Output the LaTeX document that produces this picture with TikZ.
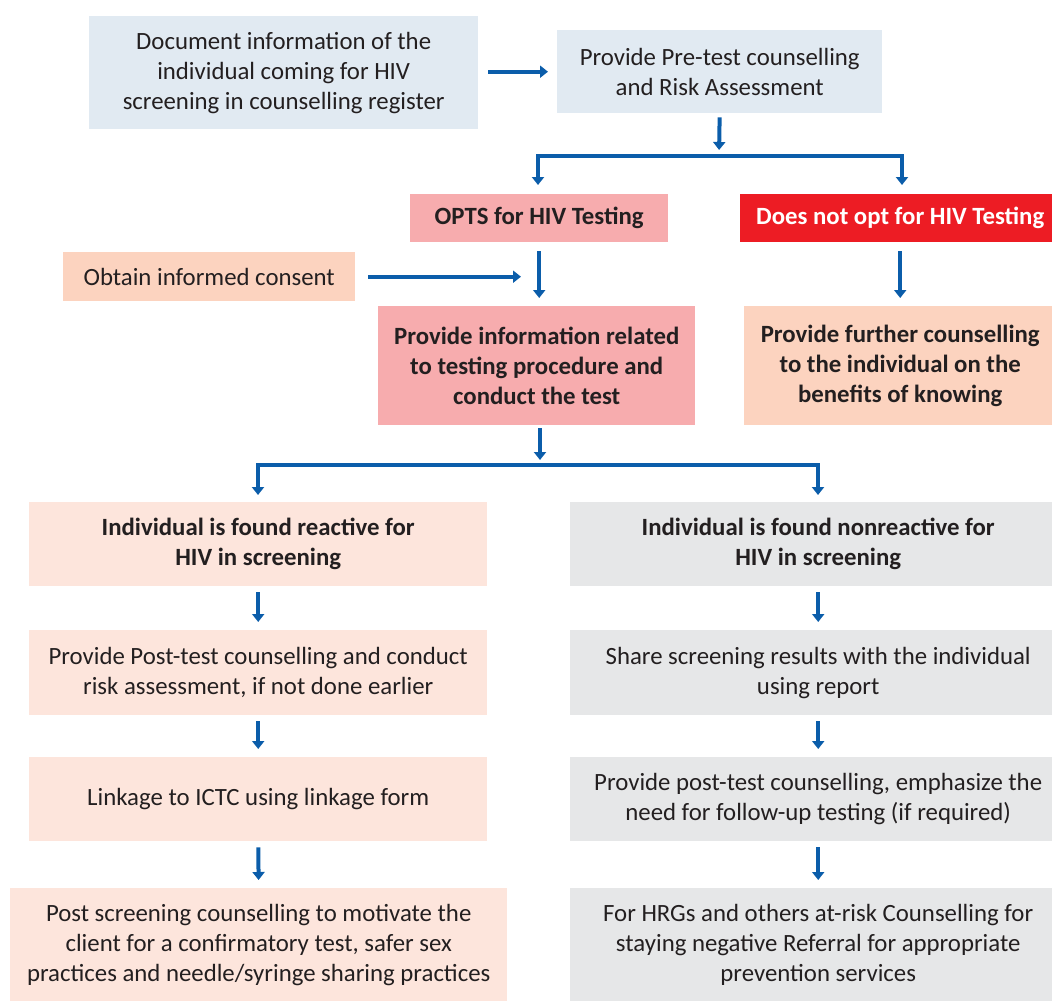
\documentclass[tikz,border=0pt]{standalone}
\usepackage{fontspec}
\setmainfont{Carlito}
\usetikzlibrary{arrows.meta}
\definecolor{txt}{HTML}{231F20}
\definecolor{cblue}{HTML}{E1EAF2}
\definecolor{cpink}{HTML}{F7ACAE}
\definecolor{cred}{HTML}{ED1C24}
\definecolor{cpeach}{HTML}{FCD3BF}
\definecolor{clpeach}{HTML}{FDE5DC}
\definecolor{cgray}{HTML}{E6E7E8}
\definecolor{arrblue}{HTML}{0B5DAA}
\tikzset{
  box/.style={anchor=north west, inner sep=0pt, align=center, text=txt,
    font=\fontsize{24.8}{30}\selectfont},
  bbox/.style={box, font=\fontsize{24.8}{30}\selectfont\bfseries},
  arr/.style={draw=arrblue, line width=4pt, -{Triangle[width=12pt,length=8pt]}},
  bar/.style={draw=arrblue, line width=4pt, line cap=rect},
}
\begin{document}
\begin{tikzpicture}[x=1pt,y=-1pt]
\path[use as bounding box, clip] (0,0) rectangle (1052,1001);
% top row
\node[box, fill=cblue, minimum width=389pt, minimum height=113pt] (doc) at (89,16)
  {Document information of the\\individual coming for HIV\\screening in counselling register};
\node[box, fill=cblue, minimum width=325pt, minimum height=83pt] (pre) at (557,30)
  {Provide Pre-test counselling\\and Risk Assessment};
% decision
\node[bbox, fill=cpink, minimum width=258pt, minimum height=48pt] (opts) at (410,194)
  {OPTS for HIV Testing};
\node[bbox, fill=cred, text=white, minimum width=320pt, minimum height=48pt] (noopt) at (740,194)
  {Does not opt for HIV Testing};
\node[box, fill=cpeach, minimum width=292pt, minimum height=49pt] (consent) at (63,252)
  {Obtain informed consent};
\node[bbox, fill=cpink, minimum width=317pt, minimum height=119pt] (info) at (378,306)
  {Provide information related\\to testing procedure and\\conduct the test};
\node[bbox, fill=cpeach, minimum width=312pt, minimum height=119pt] (further) at (744,306)
  {Provide further counselling\\to the individual on the\\benefits of knowing};
% left column
\node[bbox, fill=clpeach, minimum width=458pt, minimum height=84pt] (react) at (29,502)
  {Individual is found reactive for\\HIV in screening};
\node[box, fill=clpeach, minimum width=458pt, minimum height=85pt] (postl) at (29,630)
  {Provide Post-test counselling and conduct\\risk assessment, if not done earlier};
\node[box, fill=clpeach, minimum width=458pt, minimum height=84pt] (link) at (29,757)
  {Linkage to ICTC using linkage form};
\node[box, fill=clpeach, minimum width=497pt, minimum height=113pt] (postscr) at (10,888)
  {Post screening counselling to motivate the\\client for a confirmatory test, safer sex\\practices and needle/syringe sharing practices};
% right column
\node[bbox, fill=cgray, minimum width=496pt, minimum height=84pt] (nonreact) at (570,502)
  {Individual is found nonreactive for\\HIV in screening};
\node[box, fill=cgray, minimum width=496pt, minimum height=85pt] (share) at (570,630)
  {Share screening results with the individual\\using report};
\node[box, fill=cgray, minimum width=496pt, minimum height=84pt] (postr) at (570,757)
  {Provide post-test counselling, emphasize the\\need for follow-up testing (if required)};
\node[box, fill=cgray, minimum width=496pt, minimum height=113pt] (hrg) at (570,888)
  {For HRGs and others at-risk Counselling for\\staying negative Referral for appropriate\\prevention services};
% connectors
\draw[arr, shorten <=10pt, shorten >=9pt] (doc.east |- pre.west) -- (pre.west);
\coordinate (j1) at (719,156);
\coordinate (b1l) at (538,156);
\coordinate (b1r) at (902,156);
\draw[arr, shorten <=4pt, shorten >=6pt] (pre.south) -- (j1);
\draw[bar] (b1l) -- (b1r);
\draw[arr, shorten >=9pt] (b1l) -- (b1l |- opts.north);
\draw[arr, shorten >=9pt] (b1r) -- (b1r |- noopt.north);
\coordinate (c1) at (521,276);
\draw[arr, shorten <=13pt] (consent.east) -- (c1 |- consent.east);
\draw[arr, shorten <=9pt, shorten >=8pt] (opts.south) -- (opts.south |- info.north);
\draw[arr, shorten <=9pt, shorten >=8pt] (noopt.south) -- (noopt.south |- further.north);
\coordinate (j2) at (540,465);
\coordinate (b2l) at (258,465);
\coordinate (b2r) at (818,465);
\draw[arr, shorten <=3pt, shorten >=5pt] (info.south -| j2) -- (j2);
\draw[bar] (b2l) -- (b2r);
\draw[arr, shorten >=7pt] (b2l) -- (b2l |- react.north);
\draw[arr, shorten >=7pt] (b2r) -- (b2r |- nonreact.north);
\foreach \a/\b in {react/postl, postl/link, link/postscr, nonreact/share, share/postr, postr/hrg}
  \draw[arr, shorten <=6pt, shorten >=8pt] (\a.south) -- (\b.north);
\end{tikzpicture}
\end{document}
